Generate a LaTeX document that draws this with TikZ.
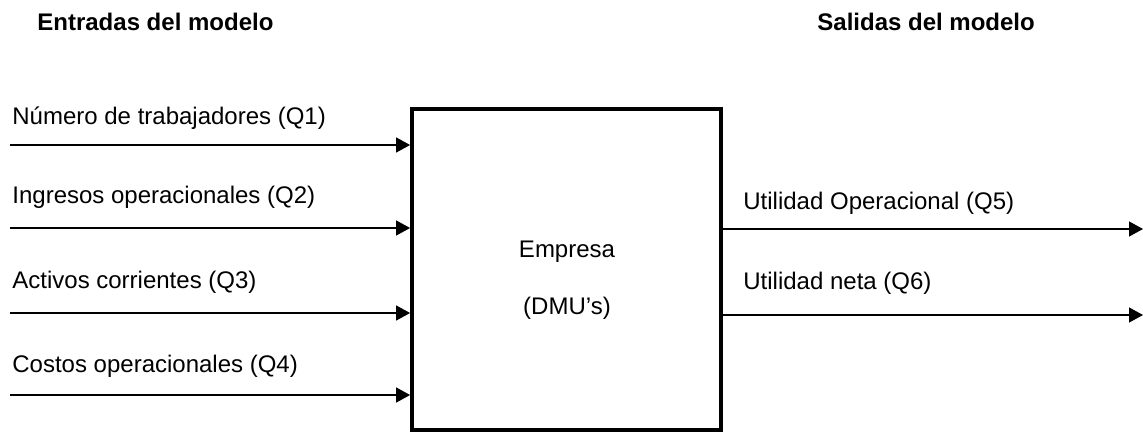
\documentclass[tikz,border=0pt]{standalone}
\usepackage{fontspec}
\setmainfont{Liberation Sans}
\usetikzlibrary{arrows.meta}

\begin{document}
\begin{tikzpicture}[x=0.5pt, y=-0.5pt,
every node/.style={inner sep=0pt, font=\fontsize{12}{14}\selectfont},
title/.style={anchor=west, font=\fontsize{12}{14}\selectfont\bfseries},
var/.style={anchor=west},
dmu/.style={draw, line width=1.8pt, minimum width=154.5pt, minimum height=160.5pt},
flow/.style={line width=0.6pt, -{Triangle[length=7pt, width=7.5pt]}}]
\useasboundingbox (0,0) rectangle (1143,432);
\node[title] (tin) at (37,22) {Entradas del modelo};
\node[title] (tout) at (817,22) {Salidas del modelo};
\node[dmu] (firm) at (566.4,269.4) {};
\node (emp) at (567,252) {Empresa};
\node (dmus) at (567,308) {(DMU’s)};
% entradas
\node[var] (q1) at (12,118) {Número de trabajadores (Q1)};
\node[var] (q2) at (12,197) {Ingresos operacionales (Q2)};
\node[var] (q3) at (12,282) {Activos corrientes (Q3)};
\node[var] (q4) at (12,366) {Costos operacionales (Q4)};
\coordinate (i1) at (10,145);
\coordinate (i2) at (10,228);
\coordinate (i3) at (10,313);
\coordinate (i4) at (10,395);
\draw[flow] (i1) -- (i1 -| firm.west);
\draw[flow] (i2) -- (i2 -| firm.west);
\draw[flow] (i3) -- (i3 -| firm.west);
\draw[flow] (i4) -- (i4 -| firm.west);
% salidas
\node[var] (q5) at (743,203) {Utilidad Operacional (Q5)};
\node[var] (q6) at (743,283) {Utilidad neta (Q6)};
\coordinate (o5) at (1143,229);
\coordinate (o6) at (1143,315);
\draw[flow] (o5 -| firm.east) -- (o5);
\draw[flow] (o6 -| firm.east) -- (o6);
\end{tikzpicture}
\end{document}
